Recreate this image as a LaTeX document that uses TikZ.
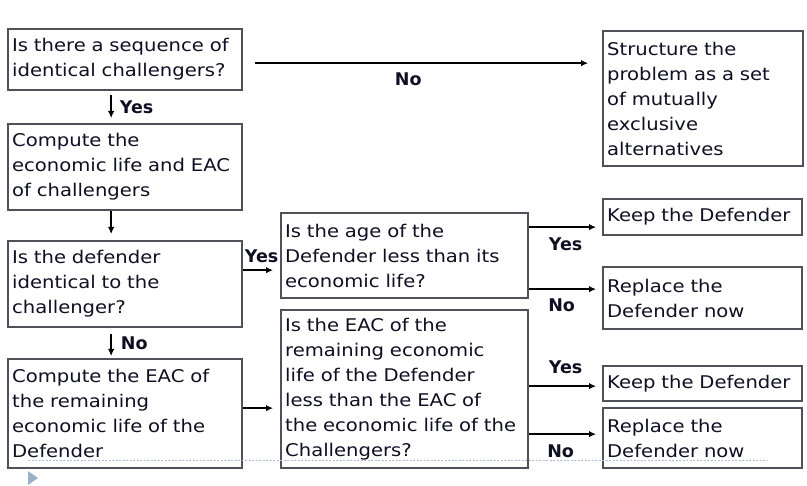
\documentclass[tikz,border=0pt]{standalone}
\usepackage{fontspec}
\setmainfont[FakeStretch=1.12]{DejaVu Sans}
\newfontfamily\lblfont{DejaVu Sans}
\usetikzlibrary{arrows.meta}
\definecolor{boxgray}{RGB}{80,80,90}
\definecolor{txt}{RGB}{15,15,35}
\definecolor{dashcol}{RGB}{170,190,215}
\definecolor{tricol}{RGB}{155,178,203}
\tikzset{
  box/.style={draw=boxgray, line width=2.3pt, fill=white, anchor=north west,
    inner xsep=4pt, inner ysep=0pt, align=left, text=txt,
    font=\fontsize{17.5}{25}\selectfont},
  arr/.style={-{Latex[length=7pt,width=6.5pt]}, line width=1.6pt, draw=black},
  lbl/.style={inner sep=0pt, text=txt, font=\lblfont\bfseries\fontsize{17.5}{20}\selectfont}
}
\begin{document}
\begin{tikzpicture}[x=1pt,y=-1pt]
\useasboundingbox (0,0) rectangle (807,486);

% left column
\node[box, text width=226pt, minimum height=61pt]  (b1) at (7,28)
  {Is there a sequence of\\identical challengers?};
\node[box, text width=226pt, minimum height=86pt]  (b2) at (7,123)
  {Compute the\\economic life and EAC\\of challengers};
\node[box, text width=226pt, minimum height=86pt]  (b3) at (7,240)
  {Is the defender\\identical to the\\challenger?};
\node[box, text width=226pt, minimum height=109pt] (b4) at (7,358)
  {Compute the EAC of\\the remaining\\economic life of the\\Defender};

% middle column
\node[box, text width=239pt, minimum height=85pt]  (b5) at (280,212)
  {Is the age of the\\Defender less than its\\economic life?};
\node[box, text width=239pt, minimum height=158pt] (b6) at (280,309)
  {Is the EAC of the\\remaining economic\\life of the Defender\\less than the EAC of\\the economic life of the\\Challengers?};

% right column
\node[box, text width=192pt, minimum height=135pt] (b7) at (602,30)
  {Structure the\\problem as a set\\of mutually\\exclusive\\alternatives};
\node[box, text width=191pt, minimum height=36pt]  (b8) at (602,198)
  {Keep the Defender};
\node[box, text width=191pt, minimum height=62pt]  (b9) at (602,266)
  {Replace the\\Defender now};
\node[box, text width=191pt, minimum height=35pt]  (b10) at (602,365)
  {Keep the Defender};
\node[box, text width=191pt, minimum height=60pt]  (b11) at (602,407)
  {Replace the\\Defender now};

% connector anchor points
\coordinate (h1) at ([yshift=-3.5pt]b1.east);
\coordinate (v1) at ([xshift=-14pt]b1.south);
\coordinate (v2) at ([xshift=-14pt]b2.south);
\coordinate (v3) at ([xshift=-14pt]b3.south);
\coordinate (h5) at ([yshift=14pt]b3.east);
\coordinate (h6) at ([yshift=5.5pt]b4.east);
\coordinate (r1) at ([yshift=-10pt]b8.west);
\coordinate (r2) at ([yshift=9pt]b9.west);
\coordinate (r3) at ([yshift=-2.5pt]b10.west);
\coordinate (r4) at ([yshift=4pt]b11.west);

% connectors
\draw[arr, shorten <=12pt, shorten >=14pt] (h1) -- (h1 -| b7.west)
  node[lbl, pos=0.46, below=9pt] {No};
\draw[arr, shorten <=4pt, shorten >=5pt] (v1) -- (v1 |- b2.north)
  node[lbl, midway, right=8pt] {Yes};
\draw[arr, shorten >=6pt] (v2) -- (v2 |- b3.north);
\draw[arr, shorten <=6pt, shorten >=2pt] (v3) -- (v3 |- b4.north)
  node[lbl, midway, right=9pt] {No};
\draw[arr, shorten >=7pt] (h5) -- (h5 -| b5.west)
  node[lbl, midway, above=7pt] {Yes};
\draw[arr, shorten >=7pt] (h6) -- (h6 -| b6.west);
\draw[arr, shorten >=6pt] (r1 -| b5.east) -- (r1)
  node[lbl, midway, below=10pt] {Yes};
\draw[arr, shorten >=6pt] (r2 -| b5.east) -- (r2)
  node[lbl, midway, below=8.5pt, xshift=-4pt] {No};
\draw[arr, shorten >=6pt] (r3 -| b6.east) -- (r3)
  node[lbl, midway, above=12pt] {Yes};
\draw[arr, shorten >=6pt] (r4 -| b6.east) -- (r4)
  node[lbl, midway, below=9.5pt, xshift=-5pt] {No};

% slide footer rule and bullet
\draw[dashcol, line width=1pt, dash pattern=on 2pt off 1.5pt] (28,461) -- (767,461);
\fill[tricol] (28,471) -- (38,478) -- (28,485) -- cycle;
\end{tikzpicture}
\end{document}
